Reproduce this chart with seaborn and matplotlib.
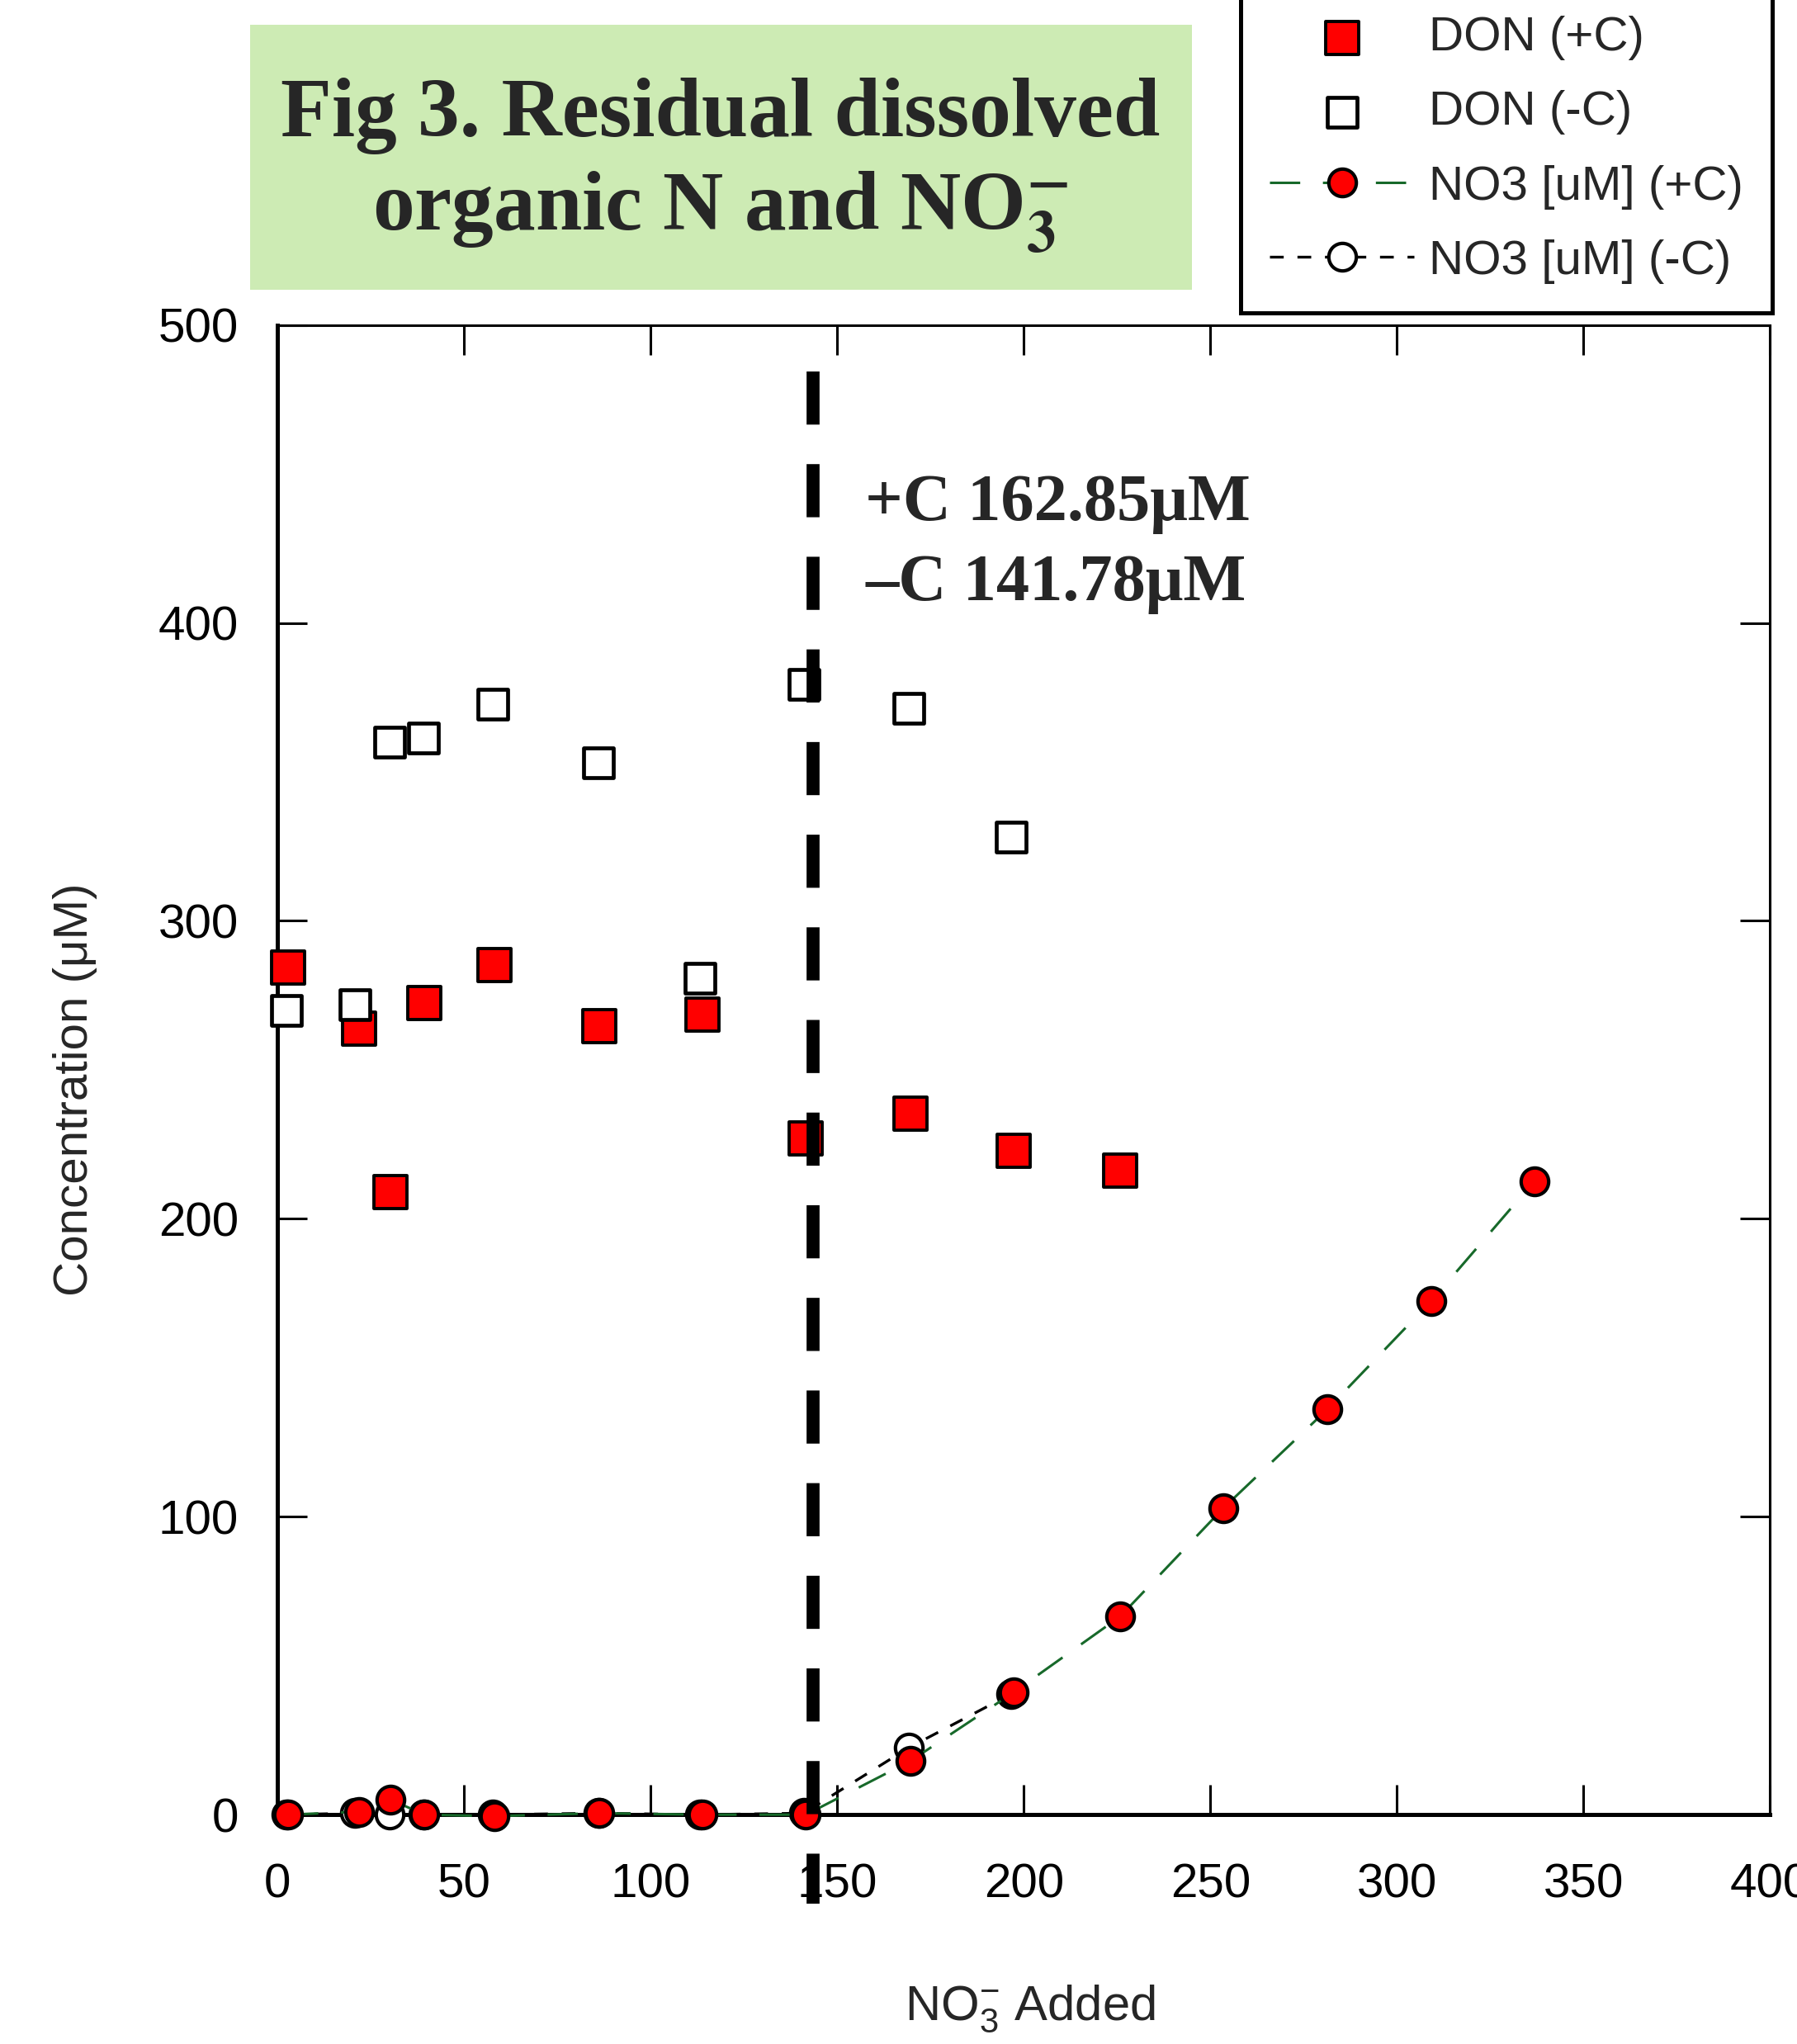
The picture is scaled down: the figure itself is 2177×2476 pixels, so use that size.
import matplotlib
matplotlib.use("Agg")
import matplotlib.pyplot as plt
import matplotlib.transforms as mtransforms
import seaborn as sns

# NO3- added (uM)
x_plus = [2.8, 21.8, 30.3, 39.4, 58.0, 86.2, 113.8, 141.6, 169.6, 197.2, 225.8, 253.4, 281.3, 309.2, 336.8]
x_minus = [2.4, 20.8, 30.0, 39.0, 57.6, 86.0, 113.3, 141.0, 169.2, 196.6]

# concentrations (uM)
don_plus = [284.3, 263.8, 209.0, 272.5, 285.2, 264.7, 268.6, 227.0, 235.3, 222.7, 216.1]
don_minus = [270.0, 272.0, 360.0, 361.3, 372.7, 353.0, 280.8, 379.3, 371.4, 328.0]
no3_plus = [0.0, 1.0, 5.0, 0.0, -0.5, 0.5, 0.0, 0.0, 18.0, 41.0, 66.5, 102.8, 136.0, 172.4, 212.6]
no3_minus = [0.0, 0.5, 0.0, 0.0, 0.0, 0.5, 0.0, 0.5, 22.5, 40.5]

breakpoint_x = 143.6
labels = ["DON (+C)", "DON (-C)", "NO3 [uM] (+C)", "NO3 [uM] (-C)"]

sns.set_style("ticks")
plt.rcParams["font.family"] = ["Liberation Sans", "DejaVu Sans"]
plt.rcParams["mathtext.fontset"] = "custom"
plt.rcParams["mathtext.rm"] = "Liberation Sans"
plt.rcParams["mathtext.it"] = "Liberation Sans:italic"

fig = plt.figure(figsize=(10.885, 12.38), dpi=200)
ax = fig.add_axes([0.1545, 0.1122, 0.8305, 0.7288])

green = "#17692a"

sns.scatterplot(x=x_plus[:len(don_plus)], y=don_plus, marker="s", s=200, color="#ff0000",
                edgecolor="black", linewidth=1.4, label=labels[0], clip_on=False, zorder=3, ax=ax)
sns.scatterplot(x=x_minus, y=don_minus, marker="s", s=160, color="white",
                edgecolor="black", linewidth=1.7, label=labels[1], clip_on=False, zorder=3, ax=ax)
sns.lineplot(x=x_plus, y=no3_plus, color=green, linewidth=1.1, linestyle=(0, (12, 9)),
             marker="o", markersize=12, markerfacecolor="#ff0000", markeredgecolor="black",
             markeredgewidth=1.5, label=labels[2], clip_on=False, zorder=4, ax=ax)
sns.lineplot(x=x_minus, y=no3_minus, color="black", linewidth=1.2, linestyle=(0, (5, 5)),
             marker="o", markersize=12, markerfacecolor="white", markeredgecolor="black",
             markeredgewidth=1.5, label=labels[3], clip_on=False, zorder=3.5, ax=ax)

# breakpoint line, drawn from top so the dash pattern starts there
trans = mtransforms.blended_transform_factory(ax.transData, ax.transAxes)
ax.plot([breakpoint_x, breakpoint_x], [0.969, -0.0598], transform=trans, color="black",
        linewidth=5.65, linestyle=(0, (4.1, 3.05)), solid_capstyle="butt",
        dash_capstyle="butt", clip_on=False, zorder=5)

ax.text(157.5, 440, "+C 162.85μM", fontsize=29, fontweight="bold",
        fontfamily=["Liberation Serif", "DejaVu Serif"], va="center", ha="left")
ax.text(157.5, 413, "–C 141.78μM", fontsize=29, fontweight="bold",
        fontfamily=["Liberation Serif", "DejaVu Serif"], va="center", ha="left")

ax.set_xlim(0, 400)
ax.set_ylim(0, 500)
ax.set_xticks(range(0, 401, 50))
ax.set_yticks(range(0, 501, 100))
ax.tick_params(direction="in", top=True, right=True, length=13, width=1.1,
               labelsize=21, colors="black")
ax.tick_params(axis="y", pad=17)
ax.tick_params(axis="x", pad=21)
for side in ["left", "bottom"]:
    ax.spines[side].set_linewidth(1.8)
for side in ["top", "right"]:
    ax.spines[side].set_linewidth(1.1)
for sp in ax.spines.values():
    sp.set_color("black")

ax.set_ylabel("Concentration (μM)", fontsize=21)
ax.yaxis.set_label_coords(-0.121, 0.487)
ax.set_xlabel(r"NO$_{3}^{-}$ Added", fontsize=21.5)
ax.xaxis.set_label_coords(0.504, -0.113)

ax.get_legend().remove()
handles, _ = ax.get_legend_handles_labels()
leg = fig.legend(handles, labels, loc="lower right", bbox_to_anchor=(0.986, 0.847),
                 fontsize=21, frameon=True, fancybox=False, edgecolor="black",
                 handlelength=3.0, handletextpad=0.3, labelspacing=0.62,
                 borderpad=0.6, borderaxespad=0)
leg.get_frame().set_linewidth(1.8)
leg.get_frame().set_alpha(1)

# title box
fig.patches.append(plt.Rectangle((0.139, 0.8584), 0.5245, 0.1295, transform=fig.transFigure,
                                 facecolor="#cdebb4", edgecolor="none", zorder=0))
fig.text(0.401, 0.9185, "Fig 3. Residual dissolved\norganic N and NO$_\\mathbf{3}^{\\mathbf{-}}$",
         fontsize=36.5, fontweight="bold", fontfamily=["Liberation Serif", "DejaVu Serif"],
         math_fontfamily="stix", ha="center", va="center", linespacing=1.25)

fig.savefig("out.png", dpi=200)
